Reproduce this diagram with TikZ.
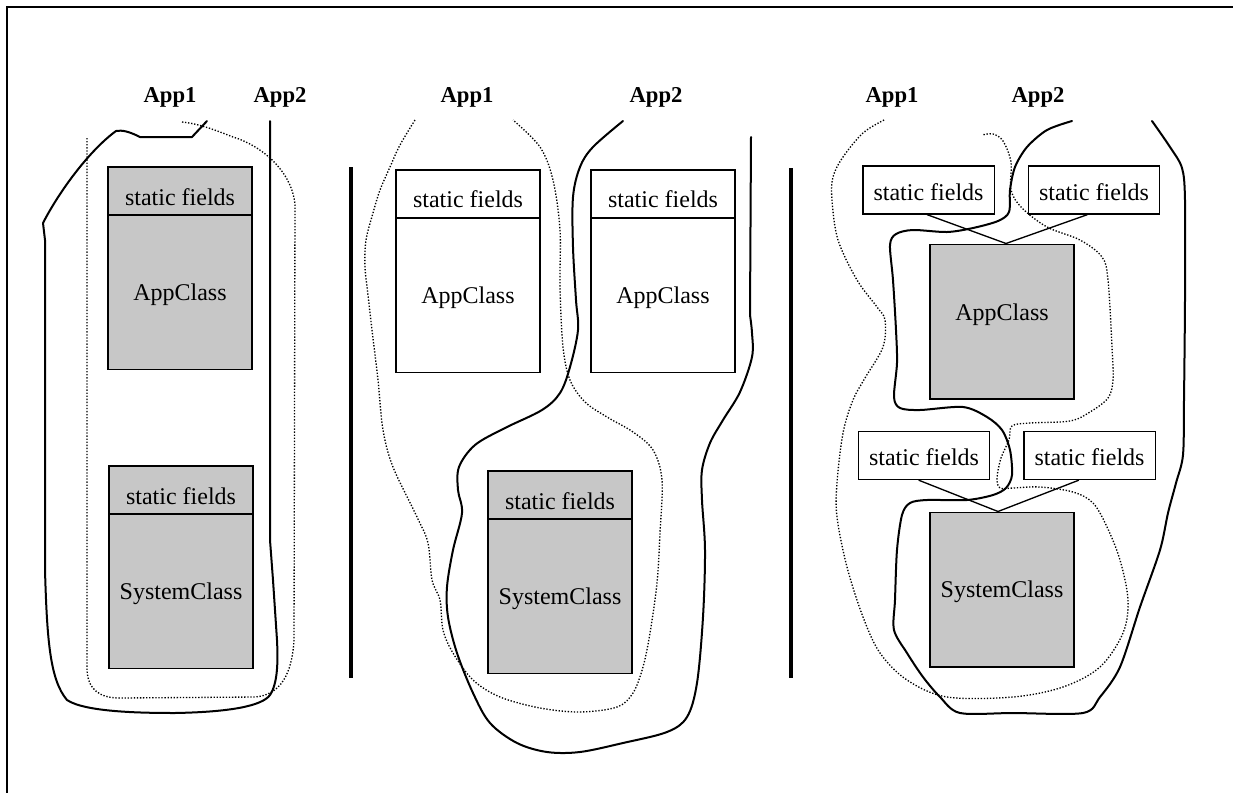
\documentclass[tikz,border=0pt]{standalone}
\usepackage{fontspec}
\setmainfont{Liberation Serif}
\begin{document}
\begin{tikzpicture}[x=0.75pt,y=-0.75pt,
  txt/.style={font=\fontsize{18}{20}\selectfont},
  lab/.style={font=\bfseries\fontsize{17}{20}\selectfont, inner sep=0},
  part/.style={draw, line width=1pt, inner sep=0, txt},
  shaded/.style={fill=black!22},
  wide/.style={minimum width=108pt},
  narrow/.style={minimum width=98.5pt},
  fieldh/.style={minimum height=36pt},
  classh/.style={minimum height=116pt},
  fieldlow/.style={text height=21.5pt, text depth=0pt},
  fieldmid/.style={text height=20pt, text depth=0pt},
  fieldhigh/.style={text height=15pt, text depth=0pt},
  classtxt/.style={text height=12.5pt, text depth=0pt},
  curve/.style={line width=1.5pt, line join=round, line cap=round},
  dots/.style={line width=1pt, dash pattern=on 1pt off 1.3pt},
  sep/.style={line width=3pt},
  link/.style={line width=1pt}]
\useasboundingbox (0,0) rectangle (1233,793);
% frame
\draw[line width=1.5pt] (1233,7) -- (7,7) -- (7,793);

% ---------- left panel ----------
\node[part,shaded,wide,classh,classtxt] (L1c) at (180,292) {AppClass};
\node[part,shaded,wide,fieldh,fieldlow] (L1f) at (180,191) {static fields};
\node[part,shaded,wide,classh,classtxt] (L2c) at (181,591) {SystemClass};
\node[part,shaded,wide,fieldh,fieldlow] (L2f) at (181,490) {static fields};
\node[lab] (LA1) at (170,97) {App1};
\node[lab] (LA2) at (280,97) {App2};
\draw[curve] (207,121) -- (192,137) -- (140,137)
  .. controls (128,131) and (122,130) .. (116,131)
  .. controls (90,150) and (60,190) .. (43,223) -- (45,240) -- (45,570)
  .. controls (47,640) and (50,680) .. (67,700)
  .. controls (85,712) and (140,713) .. (175,713)
  .. controls (230,712) and (262,706) .. (270,695)
  .. controls (278,683) and (278,660) .. (277,640) -- (273,580) -- (270,540) -- (270,121);
\draw[dots] (87,138) -- (87,670)
  .. controls (88,690) and (100,698) .. (120,698) -- (255,697)
  .. controls (280,695) and (292,675) .. (294,640) -- (295,205)
  .. controls (292,170) and (260,145) .. (233,137)
  .. controls (215,130) and (200,124) .. (182,122);

% separator
\draw[sep] (351,167) -- (351,678);

% ---------- middle panel ----------
\node[part,wide,classh,classtxt] (M1c) at (468,295) {AppClass};
\node[part,wide,fieldh,fieldmid] (M1f) at (468,194) {static fields};
\node[part,wide,classh,classtxt] (M2c) at (663,295) {AppClass};
\node[part,wide,fieldh,fieldmid] (M2f) at (663,194) {static fields};
\node[part,shaded,wide,classh,classtxt] (M3c) at (560,596) {SystemClass};
\node[part,shaded,wide,fieldh,fieldlow] (M3f) at (560,495) {static fields};
\node[lab] (MA1) at (467,97) {App1};
\node[lab] (MA2) at (656,97) {App2};
\draw[dots] plot[smooth, tension=0.55] coordinates {
  (415,120) (400,145) (390,167) (380,190) (373,213) (366,240) (365,267) (368,295)
  (372,330) (378,380) (383,430) (393,467) (417,517) (428,543) (432,580) (440,600)
  (443,630) (453,653) (473,680) (500,697) (540,708) (580,712) (617,707) (633,693)
  (643,667) (650,633) (657,583) (660,533) (662,480) (653,450) (633,432) (607,417)
  (585,402) (570,380) (563,347) (560,287) (560,230) (553,180) (540,147) (513,120)};
\draw[curve] plot[smooth, tension=0.55] coordinates {
  (623,121) (593,147) (580,167) (573,197) (573,247) (576,300) (578,330) (570,367)
  (560,393) (542,410) (505,428) (475,445) (459,467) (458,490) (462,513) (453,550)
  (447,587) (448,617) (457,653) (473,693) (490,723) (517,743) (547,752) (580,752)
  (623,743) (667,732) (687,717) (697,683) (703,617) (705,550) (702,500) (702,470)
  (710,443) (723,420) (740,392) (752,357) (752,333) (750,315)}
  -- (751,137);

% separator
\draw[sep] (791,168) -- (791,678);

% ---------- right panel ----------
\node[part,narrow,fieldh,fieldhigh] (RA1) at (928.5,190) {static fields};
\node[part,narrow,fieldh,fieldhigh] (RA2) at (1094,190) {static fields};
\node[part,shaded,wide,classh,text height=12pt,text depth=14pt] (RAc) at (1002,321.5) {AppClass};
\node[part,narrow,fieldh,fieldhigh] (RB1) at (924,455.5) {static fields};
\node[part,narrow,fieldh,fieldhigh] (RB2) at (1089.5,455.5) {static fields};
\node[part,shaded,wide,classh,classtxt] (RBc) at (1002,589.5) {SystemClass};
\node[lab] (RA1l) at (892,97) {App1};
\node[lab] (RA2l) at (1038,97) {App2};
\draw[link] ([xshift=-1pt]RA1.south) -- ([xshift=3pt]RAc.north);
\draw[link] ([xshift=-5pt]RA2.south) -- ([xshift=3pt]RAc.north);
\draw[link] ([xshift=-4pt]RB1.south) -- ([xshift=-3pt]RBc.north);
\draw[link] ([xshift=-8pt]RB2.south) -- ([xshift=-3pt]RBc.north);
\draw[dots] plot[smooth, tension=0.55] coordinates {
  (884,120) (863,133) (843,157) (833,177) (832,200) (838,240) (857,280) (877,307)
  (885,320) (883,347) (865,378) (853,400) (843,433) (837,483) (837,517) (847,567)
  (863,617) (880,653) (907,680) (947,697) (1013,697) (1063,687) (1100,667) (1123,633)
  (1128,600) (1120,560) (1107,527) (1093,503) (1073,492) (1040,487) (1013,488) (1000,488)
  (997,478) (1001,458) (1009,440) (1012,426) (1030,423) (1070,421) (1090,412) (1108,398)
  (1113,380) (1112,347) (1108,280) (1102,257) (1080,240) (1047,227) (1022,208) (1011,190)
  (1011,162) (1003,141) (993,134) (982,135)};
\draw[curve] plot[smooth, tension=0.5] coordinates {
  (1072,121) (1047,130) (1027,147) (1015,167) (1010,190) (1009,212) (998,221) (973,228)
  (947,232) (913,230) (896,234) (890,245) (893,280) (896,330) (897,363) (894,397)
  (900,408) (920,410) (963,407) (987,417) (1002,430) (1010,450) (1012,475) (1006,488)
  (993,495) (967,500) (927,500) (910,503) (902,515) (897,550) (895,600) (894,630)
  (907,653) (923,677) (940,697) (960,713) (1013,713) (1083,713) (1100,697) (1120,667)
  (1140,607) (1160,550) (1168,513) (1176,483) (1183,455) (1184,400) (1185,300) (1185,200)
  (1182,168) (1170,147) (1152,121)};
\end{tikzpicture}
\end{document}
